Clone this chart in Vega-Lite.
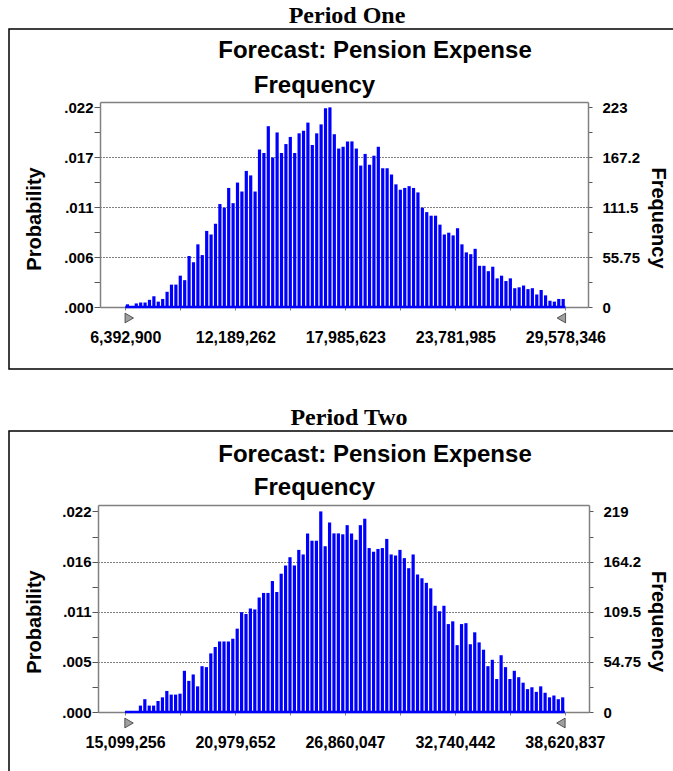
{
  "$schema": "https://vega.github.io/schema/vega-lite/v6.json",
  "padding": {"left": 8, "top": 4, "right": 0, "bottom": 0},
  "spacing": 36,
  "datasets": {
    "period1": [
      {"value": 6508827, "frequency": 3}, {"value": 6740681, "frequency": 1}, {"value": 6972536, "frequency": 4}, {"value": 7204390, "frequency": 5}, {"value": 7436245, "frequency": 5},
      {"value": 7668099, "frequency": 8}, {"value": 7899954, "frequency": 12}, {"value": 8131808, "frequency": 6}, {"value": 8363663, "frequency": 9}, {"value": 8595517, "frequency": 17},
      {"value": 8827372, "frequency": 25}, {"value": 9059226, "frequency": 25}, {"value": 9291081, "frequency": 35}, {"value": 9522935, "frequency": 30}, {"value": 9754790, "frequency": 57},
      {"value": 9986644, "frequency": 50}, {"value": 10218499, "frequency": 70}, {"value": 10450353, "frequency": 58}, {"value": 10682208, "frequency": 85}, {"value": 10914062, "frequency": 81},
      {"value": 11145917, "frequency": 93}, {"value": 11377771, "frequency": 115}, {"value": 11609626, "frequency": 111}, {"value": 11841480, "frequency": 133}, {"value": 12073335, "frequency": 116},
      {"value": 12305189, "frequency": 139}, {"value": 12537044, "frequency": 129}, {"value": 12768898, "frequency": 152}, {"value": 13000753, "frequency": 147}, {"value": 13232607, "frequency": 129},
      {"value": 13464461, "frequency": 176}, {"value": 13696315, "frequency": 172}, {"value": 13928170, "frequency": 202}, {"value": 14160024, "frequency": 167}, {"value": 14391879, "frequency": 195},
      {"value": 14623733, "frequency": 172}, {"value": 14855588, "frequency": 182}, {"value": 15087442, "frequency": 190}, {"value": 15319297, "frequency": 172}, {"value": 15551151, "frequency": 194},
      {"value": 15783006, "frequency": 197}, {"value": 16014860, "frequency": 206}, {"value": 16246715, "frequency": 181}, {"value": 16478569, "frequency": 194}, {"value": 16710424, "frequency": 204},
      {"value": 16942278, "frequency": 222}, {"value": 17174133, "frequency": 223}, {"value": 17405987, "frequency": 193}, {"value": 17637842, "frequency": 177}, {"value": 17869696, "frequency": 179},
      {"value": 18101550, "frequency": 185}, {"value": 18333404, "frequency": 185}, {"value": 18565259, "frequency": 177}, {"value": 18797113, "frequency": 158}, {"value": 19028968, "frequency": 171},
      {"value": 19260822, "frequency": 159}, {"value": 19492677, "frequency": 169}, {"value": 19724531, "frequency": 179}, {"value": 19956386, "frequency": 155}, {"value": 20188240, "frequency": 155},
      {"value": 20420095, "frequency": 148}, {"value": 20651949, "frequency": 137}, {"value": 20883804, "frequency": 131}, {"value": 21115658, "frequency": 133}, {"value": 21347513, "frequency": 135},
      {"value": 21579367, "frequency": 133}, {"value": 21811222, "frequency": 128}, {"value": 22043076, "frequency": 111}, {"value": 22274931, "frequency": 106}, {"value": 22506785, "frequency": 102},
      {"value": 22738640, "frequency": 102}, {"value": 22970494, "frequency": 92}, {"value": 23202349, "frequency": 81}, {"value": 23434203, "frequency": 83}, {"value": 23666058, "frequency": 80},
      {"value": 23897912, "frequency": 88}, {"value": 24129767, "frequency": 70}, {"value": 24361621, "frequency": 61}, {"value": 24593476, "frequency": 59}, {"value": 24825330, "frequency": 65},
      {"value": 25057184, "frequency": 46}, {"value": 25289038, "frequency": 46}, {"value": 25520893, "frequency": 40}, {"value": 25752747, "frequency": 45}, {"value": 25984602, "frequency": 32},
      {"value": 26216456, "frequency": 35}, {"value": 26448311, "frequency": 29}, {"value": 26680165, "frequency": 32}, {"value": 26912020, "frequency": 21}, {"value": 27143874, "frequency": 22},
      {"value": 27375729, "frequency": 24}, {"value": 27607583, "frequency": 20}, {"value": 27839438, "frequency": 21}, {"value": 28071292, "frequency": 14}, {"value": 28303147, "frequency": 19},
      {"value": 28535001, "frequency": 13}, {"value": 28766856, "frequency": 7}, {"value": 28998710, "frequency": 6}, {"value": 29230565, "frequency": 9}, {"value": 29462419, "frequency": 9}
    ],
    "period2": [
      {"value": 15216864, "frequency": 1}, {"value": 15452080, "frequency": 0}, {"value": 15687296, "frequency": 1}, {"value": 15922511, "frequency": 7}, {"value": 16157727, "frequency": 14},
      {"value": 16392943, "frequency": 7}, {"value": 16628159, "frequency": 7}, {"value": 16863375, "frequency": 12}, {"value": 17098590, "frequency": 16}, {"value": 17333806, "frequency": 23},
      {"value": 17569022, "frequency": 19}, {"value": 17804238, "frequency": 19}, {"value": 18039454, "frequency": 20}, {"value": 18274669, "frequency": 45}, {"value": 18509885, "frequency": 34},
      {"value": 18745101, "frequency": 41}, {"value": 18980317, "frequency": 28}, {"value": 19215533, "frequency": 50}, {"value": 19450748, "frequency": 49}, {"value": 19685964, "frequency": 64},
      {"value": 19921180, "frequency": 71}, {"value": 20156396, "frequency": 77}, {"value": 20391612, "frequency": 77}, {"value": 20626827, "frequency": 77}, {"value": 20862043, "frequency": 80},
      {"value": 21097259, "frequency": 91}, {"value": 21332475, "frequency": 109}, {"value": 21567691, "frequency": 107}, {"value": 21802906, "frequency": 113}, {"value": 22038122, "frequency": 112},
      {"value": 22273338, "frequency": 125}, {"value": 22508554, "frequency": 130}, {"value": 22743770, "frequency": 130}, {"value": 22978985, "frequency": 143}, {"value": 23214201, "frequency": 131},
      {"value": 23449417, "frequency": 151}, {"value": 23684633, "frequency": 160}, {"value": 23919849, "frequency": 169}, {"value": 24155064, "frequency": 160}, {"value": 24390280, "frequency": 177},
      {"value": 24625496, "frequency": 172}, {"value": 24860712, "frequency": 195}, {"value": 25095928, "frequency": 187}, {"value": 25331143, "frequency": 187}, {"value": 25566359, "frequency": 219},
      {"value": 25801575, "frequency": 181}, {"value": 26036791, "frequency": 207}, {"value": 26272007, "frequency": 195}, {"value": 26507222, "frequency": 195}, {"value": 26742438, "frequency": 194},
      {"value": 26977654, "frequency": 204}, {"value": 27212870, "frequency": 195}, {"value": 27448086, "frequency": 188}, {"value": 27683301, "frequency": 204}, {"value": 27918517, "frequency": 211},
      {"value": 28153733, "frequency": 179}, {"value": 28388949, "frequency": 175}, {"value": 28624165, "frequency": 178}, {"value": 28859380, "frequency": 179}, {"value": 29094596, "frequency": 189},
      {"value": 29329813, "frequency": 172}, {"value": 29565029, "frequency": 171}, {"value": 29800245, "frequency": 177}, {"value": 30035460, "frequency": 168}, {"value": 30270676, "frequency": 157},
      {"value": 30505892, "frequency": 172}, {"value": 30741108, "frequency": 150}, {"value": 30976324, "frequency": 146}, {"value": 31211539, "frequency": 141}, {"value": 31446755, "frequency": 135},
      {"value": 31681971, "frequency": 116}, {"value": 31917187, "frequency": 110}, {"value": 32152403, "frequency": 116}, {"value": 32387618, "frequency": 96}, {"value": 32622834, "frequency": 99},
      {"value": 32858050, "frequency": 73}, {"value": 33093266, "frequency": 96}, {"value": 33328482, "frequency": 97}, {"value": 33563697, "frequency": 74}, {"value": 33798913, "frequency": 87},
      {"value": 34034129, "frequency": 76}, {"value": 34269345, "frequency": 68}, {"value": 34504561, "frequency": 50}, {"value": 34739776, "frequency": 57}, {"value": 34974992, "frequency": 36},
      {"value": 35210208, "frequency": 62}, {"value": 35445424, "frequency": 49}, {"value": 35680640, "frequency": 36}, {"value": 35915855, "frequency": 45}, {"value": 36151071, "frequency": 38},
      {"value": 36386287, "frequency": 32}, {"value": 36621503, "frequency": 25}, {"value": 36856719, "frequency": 27}, {"value": 37091934, "frequency": 22}, {"value": 37327150, "frequency": 28},
      {"value": 37562366, "frequency": 21}, {"value": 37797582, "frequency": 16}, {"value": 38032798, "frequency": 18}, {"value": 38268013, "frequency": 14}, {"value": 38503229, "frequency": 16}
    ],
    "range1": [{"value": 6392900, "end": "low"}, {"value": 29578346, "end": "high"}],
    "range2": [{"value": 15099256, "end": "low"}, {"value": 38620837, "end": "high"}]
  },
  "vconcat": [
    {
      "title": {"text": "Period One", "font": "Liberation Serif", "fontSize": 24, "fontWeight": "bold", "anchor": "middle", "offset": 0, "dx": 3, "color": "#000000"},
      "vconcat": [
        {
          "width": 670,
          "height": 340,
          "title": {"text": "Forecast: Pension Expense", "fontSize": 24, "anchor": "middle", "dx": 31, "offset": -34},
          "layer": [
            {
              "layer": [
                {
                  "data": {"name": "period1"},
                  "mark": {"type": "bar", "color": "#0000ff", "size": 3.2},
                  "encoding": {
                    "x": {
                      "field": "value", "type": "quantitative",
                      "scale": {"domain": [5324700, 30507216], "range": [91, 579], "nice": false, "zero": false},
                      "axis": {"orient": "bottom", "offset": -62, "values": [6392900, 9291081, 12189262, 15087442, 17985623, 20883804, 23781985, 26680165, 29578346],
                        "labelExpr": "(datum.value == 6392900 || datum.value == 12189262 || datum.value == 17985623 || datum.value == 23781985 || datum.value == 29578346) ? format(datum.value, ',') : ''",
                        "tickSize": 3, "labelPadding": 19, "labelFontSize": 16, "labelFlush": false, "labelOverlap": false, "title": null, "tickColor": "#808080"}
                    },
                    "y": {
                      "field": "frequency", "type": "quantitative",
                      "scale": {"domain": [0, 229], "range": [278, 73], "nice": false},
                      "axis": {"orient": "left", "offset": -91, "values": [0, 27.875, 55.75, 83.625, 111.5, 139.35, 167.2, 195.1, 223],
                        "labelExpr": "(datum.value == 0 || datum.value == 55.75 || datum.value == 111.5 || datum.value == 167.2 || datum.value == 223) ? replace(format(datum.value / 10000, '.3f'), '0.', '.') : ''",
                        "tickSize": 6, "labelPadding": 1, "labelOverlap": false, "grid": true, "gridColor": "#000000", "gridDash": [1, 2], "gridWidth": 1,
                        "gridOpacity": {"condition": {"test": "datum.value == 55.75 || datum.value == 111.5 || datum.value == 167.2", "value": 1}, "value": 0},
                        "title": "Probability", "titleX": -60, "titleY": 189.5, "titleAngle": 270, "titleBaseline": "alphabetic", "titleAlign": "center"}
                    }
                  }
                },
                {
                  "data": {"name": "range1"},
                  "mark": {"type": "line", "color": "#0000ff", "strokeWidth": 2.5},
                  "encoding": {"x": {"field": "value", "type": "quantitative", "title": null}, "y": {"datum": 0}}
                },
                {
                  "data": {"name": "range1"},
                  "transform": [{"filter": "datum.end == 'low'"}],
                  "mark": {"type": "point", "shape": "triangle-right", "filled": true, "color": "#a0a0a0", "stroke": "#333333", "strokeWidth": 0.8, "size": 95, "xOffset": 4, "yOffset": 11, "opacity": 1},
                  "encoding": {"x": {"field": "value", "type": "quantitative", "title": null}, "y": {"datum": 0}}
                },
                {
                  "data": {"name": "range1"},
                  "transform": [{"filter": "datum.end == 'high'"}],
                  "mark": {"type": "point", "shape": "triangle-left", "filled": true, "color": "#a0a0a0", "stroke": "#333333", "strokeWidth": 0.8, "size": 95, "xOffset": -4, "yOffset": 11, "opacity": 1},
                  "encoding": {"x": {"field": "value", "type": "quantitative", "title": null}, "y": {"datum": 0}}
                }
              ]
            },
            {
              "data": {"name": "period1"},
              "mark": {"type": "bar", "opacity": 0, "size": 3.2},
              "encoding": {
                "x": {
                  "field": "value", "type": "quantitative",
                  "scale": {"domain": [5324700, 30507216], "range": [91, 579], "nice": false, "zero": false},
                  "axis": {"orient": "top", "offset": -73, "labels": false, "ticks": false, "grid": false,
                    "title": "Frequency", "titleFontSize": 24, "titleX": 305, "titleY": -10, "titleBaseline": "alphabetic", "titleAlign": "center"}
                },
                "y": {
                  "field": "frequency", "type": "quantitative",
                  "scale": {"domain": [0, 229], "range": [278, 73], "nice": false},
                  "axis": {"orient": "right", "offset": -91, "values": [0, 27.875, 55.75, 83.625, 111.5, 139.35, 167.2, 195.1, 223],
                    "labelExpr": "(datum.value == 0 || datum.value == 55.75 || datum.value == 111.5 || datum.value == 167.2 || datum.value == 223) ? '' + datum.value : ''",
                    "tickSize": 4, "labelPadding": 10, "labelOverlap": false, "grid": false,
                    "title": "Frequency", "titleAngle": 90, "titleX": 63, "titleY": 188.5, "titleBaseline": "alphabetic", "titleAlign": "center"}
                }
              }
            }
          ],
          "resolve": {"scale": {"x": "independent", "y": "independent"}}
        }
      ]
    },
    {
      "title": {"text": "Period Two", "font": "Liberation Serif", "fontSize": 24, "fontWeight": "bold", "anchor": "middle", "offset": 0, "dx": 5, "color": "#000000"},
      "vconcat": [
        {
          "width": 670,
          "height": 350,
          "title": {"text": "Forecast: Pension Expense", "fontSize": 24, "anchor": "middle", "dx": 31, "offset": -36},
          "layer": [
            {
              "layer": [
                {
                  "data": {"name": "period2"},
                  "mark": {"type": "bar", "color": "#0000ff", "size": 3.2},
                  "encoding": {
                    "x": {
                      "field": "value", "type": "quantitative",
                      "scale": {"domain": [13920571, 39642364], "range": [89, 580], "nice": false, "zero": false},
                      "axis": {"orient": "bottom", "offset": -69, "values": [15099256, 18039454, 20979652, 23919849, 26860047, 29800245, 32740442, 35680640, 38620837],
                        "labelExpr": "(datum.value == 15099256 || datum.value == 20979652 || datum.value == 26860047 || datum.value == 32740442 || datum.value == 38620837) ? format(datum.value, ',') : ''",
                        "tickSize": 3, "labelPadding": 19, "labelFontSize": 16, "labelFlush": false, "labelOverlap": false, "title": null, "tickColor": "#808080"}
                    },
                    "y": {
                      "field": "frequency", "type": "quantitative",
                      "scale": {"domain": [0, 226], "range": [281, 74], "nice": false},
                      "axis": {"orient": "left", "offset": -89, "values": [0, 27.375, 54.75, 82.125, 109.5, 136.85, 164.2, 191.6, 219],
                        "labelExpr": "(datum.value == 0 || datum.value == 54.75 || datum.value == 109.5 || datum.value == 164.2 || datum.value == 219) ? replace(format(datum.value / 10000, '.3f'), '0.', '.') : ''",
                        "tickSize": 6, "labelPadding": 1, "labelOverlap": false, "grid": true, "gridColor": "#000000", "gridDash": [1, 2], "gridWidth": 1,
                        "gridOpacity": {"condition": {"test": "datum.value == 54.75 || datum.value == 109.5 || datum.value == 164.2", "value": 1}, "value": 0},
                        "title": "Probability", "titleX": -58, "titleY": 190.5, "titleAngle": 270, "titleBaseline": "alphabetic", "titleAlign": "center"}
                    }
                  }
                },
                {
                  "data": {"name": "range2"},
                  "mark": {"type": "line", "color": "#0000ff", "strokeWidth": 2.5},
                  "encoding": {"x": {"field": "value", "type": "quantitative", "title": null}, "y": {"datum": 0}}
                },
                {
                  "data": {"name": "range2"},
                  "transform": [{"filter": "datum.end == 'low'"}],
                  "mark": {"type": "point", "shape": "triangle-right", "filled": true, "color": "#a0a0a0", "stroke": "#333333", "strokeWidth": 0.8, "size": 95, "xOffset": 4, "yOffset": 11, "opacity": 1},
                  "encoding": {"x": {"field": "value", "type": "quantitative", "title": null}, "y": {"datum": 0}}
                },
                {
                  "data": {"name": "range2"},
                  "transform": [{"filter": "datum.end == 'high'"}],
                  "mark": {"type": "point", "shape": "triangle-left", "filled": true, "color": "#a0a0a0", "stroke": "#333333", "strokeWidth": 0.8, "size": 95, "xOffset": -4, "yOffset": 11, "opacity": 1},
                  "encoding": {"x": {"field": "value", "type": "quantitative", "title": null}, "y": {"datum": 0}}
                }
              ]
            },
            {
              "data": {"name": "period2"},
              "mark": {"type": "bar", "opacity": 0, "size": 3.2},
              "encoding": {
                "x": {
                  "field": "value", "type": "quantitative",
                  "scale": {"domain": [13920571, 39642364], "range": [89, 580], "nice": false, "zero": false},
                  "axis": {"orient": "top", "offset": -74, "labels": false, "ticks": false, "grid": false,
                    "title": "Frequency", "titleFontSize": 24, "titleX": 305, "titleY": -11, "titleBaseline": "alphabetic", "titleAlign": "center"}
                },
                "y": {
                  "field": "frequency", "type": "quantitative",
                  "scale": {"domain": [0, 226], "range": [281, 74], "nice": false},
                  "axis": {"orient": "right", "offset": -90, "values": [0, 27.375, 54.75, 82.125, 109.5, 136.85, 164.2, 191.6, 219],
                    "labelExpr": "(datum.value == 0 || datum.value == 54.75 || datum.value == 109.5 || datum.value == 164.2 || datum.value == 219) ? '' + datum.value : ''",
                    "tickSize": 4, "labelPadding": 10, "labelOverlap": false, "grid": false,
                    "title": "Frequency", "titleAngle": 90, "titleX": 62, "titleY": 190, "titleBaseline": "alphabetic", "titleAlign": "center"}
                }
              }
            }
          ],
          "resolve": {"scale": {"x": "independent", "y": "independent"}}
        }
      ]
    }
  ],
  "config": {
    "font": "Liberation Sans",
    "view": {"stroke": "#000000", "strokeWidth": 1.5},
    "axis": {
      "labelFont": "Liberation Sans", "labelFontWeight": "bold", "labelFontSize": 15, "labelColor": "#000000",
      "titleFont": "Liberation Sans", "titleFontWeight": "bold", "titleFontSize": 20, "titleColor": "#000000",
      "domainColor": "#808080", "domainWidth": 1.5, "tickColor": "#555555", "grid": false
    },
    "title": {"font": "Liberation Sans", "fontWeight": "bold", "color": "#000000"}
  }
}
